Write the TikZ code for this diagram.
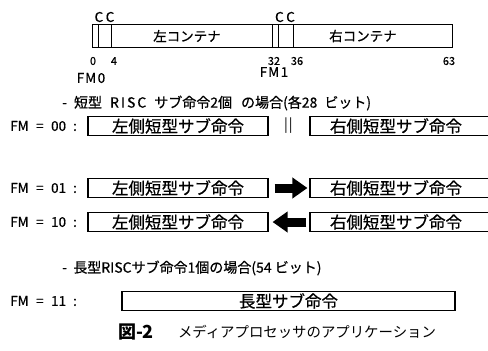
\documentclass[tikz,border=0pt]{standalone}
\usepackage{fontspec}
\setmainfont{Noto Sans CJK JP}
\newfontfamily\gothic[FakeBold=0.6]{Noto Sans CJK JP}
\usetikzlibrary{arrows.meta}
\begin{document}
\begin{tikzpicture}[x=1pt,y=-1pt,
  cell/.style={draw, line width=1.1pt, minimum height=19pt, inner sep=0pt, font=\gothic\fontsize{16.5}{17}\selectfont},
  fmlab/.style={anchor=west, inner sep=0pt, font=\gothic\fontsize{13.5}{14}\selectfont},
  head/.style={anchor=west, inner sep=0pt, font=\gothic\fontsize{14}{15}\selectfont},
  small/.style={inner sep=0pt, font=\gothic\fontsize{11}{12}\selectfont},
  regtext/.style={inner sep=0pt, font=\gothic\fontsize{13.5}{14}\selectfont},
  bigarrow/.style={line width=9pt, -{Triangle[length=15pt,width=20pt]}}
]
\useasboundingbox (0,0) rectangle (488,351);
\clip (0,0) rectangle (488,351);
% top register
\node[draw, line width=1.1pt, minimum width=360pt, minimum height=23pt, inner sep=0pt, anchor=north west] (reg) at (92,24) {};
\draw[line width=0.9pt] (98,24) -- (98,47);
\draw[line width=0.9pt] (111,24) -- (111,47);
\draw[line width=0.9pt] (272,24) -- (272,47);
\draw[line width=0.9pt] (278,24) -- (278,47);
\draw[line width=0.9pt] (293,24) -- (293,47);
\node[regtext] (lc) at (187,36) {左コンテナ};
\node[regtext] (rc) at (363,36) {右コンテナ};
\node[small, font=\gothic\fontsize{13.5}{13}\selectfont] (cc1) at (104.5,17) {C\hspace{2.5pt}C};
\node[small, font=\gothic\fontsize{13.5}{13}\selectfont] (cc2) at (285,17) {C\hspace{2.5pt}C};
\node[small] (n0) at (93,61) {0};
\node[small] (n4) at (114,61) {4};
\node[small] (n32) at (274,61) {32};
\node[small] (n36) at (297,61) {36};
\node[small] (n63) at (449,61) {63};
\node[small, font=\gothic\fontsize{13.5}{14}\selectfont] (fm0) at (91,78) {F\hspace{1pt}M\hspace{1.5pt}0};
\node[small, font=\gothic\fontsize{13.5}{14}\selectfont] (fm1) at (274,72) {F\hspace{1pt}M\hspace{1.5pt}1};
% heading 1
\node[head] (h1) at (62,103) {-\hspace{7pt}短型\hspace{8pt}R\hspace{2pt}I\hspace{2pt}S\hspace{2pt}C\hspace{8pt}サブ命令2個\hspace{9pt}の場合(各28\hspace{7pt}ビット)};
% FM=00
\node[fmlab] (f00) at (10,126) {FM\hspace{7.5pt}=\hspace{7.5pt}00\hspace{7pt}:};
\node[cell, minimum width=180pt] (l00) at (178,126) {左側短型サブ命令};
\node[inner sep=0pt, font=\fontsize{14}{14}\selectfont] (par) at (288.5,126) {|\hspace{1pt}|};
\node[cell, minimum width=190pt] (r00) at (405,126) {右側短型サブ命令\hspace*{18pt}};
% FM=01
\node[fmlab] (f01) at (10,188) {FM\hspace{7.5pt}=\hspace{7.5pt}01\hspace{7pt}:};
\node[cell, minimum width=180pt] (l01) at (178,188) {左側短型サブ命令};
\node[cell, minimum width=190pt] (r01) at (405,188) {右側短型サブ命令\hspace*{18pt}};
\draw[bigarrow] ([xshift=6pt]l01.east) -- ([xshift=-2pt]r01.west);
% FM=10
\node[fmlab] (f10) at (10,222) {FM\hspace{7.5pt}=\hspace{7.5pt}10\hspace{7pt}:};
\node[cell, minimum width=180pt] (l10) at (178,222) {左側短型サブ命令};
\node[cell, minimum width=190pt] (r10) at (405,222) {右側短型サブ命令\hspace*{18pt}};
\draw[bigarrow] ([xshift=-3pt]r10.west) -- ([xshift=4pt]l10.east);
% heading 2
\node[head] (h2) at (62,268) {-\ \ 長型RISCサブ命令1個の場合(54\ ビット)};
% FM=11
\node[fmlab] (f11) at (10,301) {FM\hspace{7.5pt}=\hspace{7.5pt}11\hspace{7pt}:};
\node[cell, minimum width=333pt] (long) at (288.5,301) {長型サブ命令};
% caption
\node[inner sep=0pt, font=\fontsize{18}{18}\selectfont\bfseries] (fig) at (136,332) {図-2};
\node[inner sep=0pt, font=\fontsize{14.4}{15}\selectfont] (cap) at (307,332) {メディアプロセッサのアプリケーション};
\end{tikzpicture}
\end{document}
